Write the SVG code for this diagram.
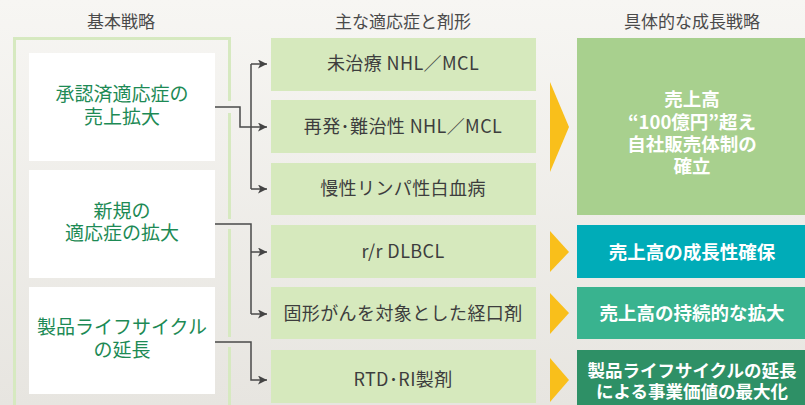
<svg xmlns="http://www.w3.org/2000/svg" width="805" height="405" viewBox="0 0 805 405">
<defs>
<linearGradient id="bg" x1="0" y1="0" x2="0" y2="1">
<stop offset="0" stop-color="#f7f6f3"/>
<stop offset="1" stop-color="#e7e5e0"/>
</linearGradient>
<marker id="ah" viewBox="0 0 10 10" refX="10" refY="5" markerWidth="9" markerHeight="9" markerUnits="userSpaceOnUse" orient="auto">
<path d="M0,0 L10,5 L0,10 L2.5,5 Z" fill="#444"/>
</marker>
<style>
.hdr{font-family:"Noto Sans CJK JP","Noto Sans",sans-serif;font-size:17px;fill:#4a4a4a;text-anchor:middle}
.wb{fill:#ffffff}
.gt{font-family:"Noto Sans CJK JP","Noto Sans",sans-serif;font-size:19px;fill:#1d8a55;text-anchor:middle}
.lb{fill:#d6e9bd}
.lt{font-family:"Noto Sans CJK JP","Noto Sans",sans-serif;font-size:18px;fill:#3d3d3d;text-anchor:middle;letter-spacing:0.4px}
.ya{fill:#f9bf1b}
.rt{font-family:"Noto Sans CJK JP","Noto Sans",sans-serif;font-size:18.5px;font-weight:bold;fill:#ffffff;text-anchor:middle}
.cn{fill:none;stroke:#4a4a4a;stroke-width:1.5}
.fr{fill:none;stroke:#d6e9c0;stroke-width:3}
</style>
</defs>
<rect width="805" height="405" fill="url(#bg)"/>

<text class="hdr" x="121" y="28">基本戦略</text>
<text class="hdr" x="403" y="28">主な適応症と剤形</text>
<text class="hdr" x="692" y="28">具体的な成長戦略</text>

<g id="frame">
<path class="fr" d="M14.5,410 V38.5 H229.5 V101 M229.5,113 V219 M229.5,229 V337 M229.5,347 V410"/>
</g>

<g id="strategy1"><rect class="wb" x="29" y="53" width="186" height="108"/>
<text class="gt" x="122" y="101">承認済適応症の<tspan x="122" dy="23">売上拡大</tspan></text></g>
<g id="strategy2"><rect class="wb" x="29" y="170" width="186" height="108"/>
<text class="gt" x="122" y="218">新規の<tspan x="122" dy="22">適応症の拡大</tspan></text></g>
<g id="strategy3"><rect class="wb" x="29" y="287" width="186" height="107"/>
<text class="gt" x="122" y="334">製品ライフサイクル<tspan x="122" dy="23">の延長</tspan></text></g>

<g id="ind1"><rect class="lb" x="271" y="38" width="265" height="53"/><text class="lt" x="403" y="70">未治療 NHL／MCL</text></g>
<g id="ind2"><rect class="lb" x="271" y="100" width="265" height="53"/><text class="lt" x="403" y="133">再発･難治性 NHL／MCL</text></g>
<g id="ind3"><rect class="lb" x="271" y="163" width="265" height="52"/><text class="lt" x="403" y="195">慢性リンパ性白血病</text></g>
<g id="ind4"><rect class="lb" x="271" y="225" width="265" height="53"/><text class="lt" x="403" y="258">r/r DLBCL</text></g>
<g id="ind5"><rect class="lb" x="271" y="287" width="265" height="52"/><text class="lt" x="403" y="320">固形がんを対象とした経口剤</text></g>
<g id="ind6"><rect class="lb" x="271" y="350" width="265" height="53"/><text class="lt" x="403" y="386">RTD･RI製剤</text></g>

<g id="arrows">
<polygon class="ya" points="550,82 569,127 550,172"/>
<polygon class="ya" points="550,231 569,252 550,272"/>
<polygon class="ya" points="550,293 569,313 550,334"/>
<polygon class="ya" points="550,358 569,380 550,402"/>
</g>

<g id="goal1"><rect x="577" y="38" width="228" height="177" fill="#a8d08e"/>
<text class="rt" x="692" y="106">売上高<tspan x="692" dy="23">“100億円”超え</tspan><tspan x="692" dy="22">自社販売体制の</tspan><tspan x="692" dy="22">確立</tspan></text></g>
<g id="goal2"><rect x="577" y="225" width="228" height="53" fill="#00acb8"/>
<text class="rt" x="692" y="259">売上高の成長性確保</text></g>
<g id="goal3"><rect x="577" y="287" width="228" height="52" fill="#39b38f"/>
<text class="rt" x="692" y="320">売上高の持続的な拡大</text></g>
<g id="goal4"><rect x="577" y="350" width="228" height="55" fill="#2e9066"/>
<text class="rt" x="692" y="377" style="font-size:17.5px">製品ライフサイクルの延長<tspan x="692" dy="21">による事業価値の最大化</tspan></text></g>

<g id="connectors">
<path class="cn" d="M215,107 H240 V127 H251"/>
<path class="cn" d="M251,64 V189"/>
<path class="cn" d="M251,64 H267" marker-end="url(#ah)"/>
<path class="cn" d="M251,127 H267" marker-end="url(#ah)"/>
<path class="cn" d="M251,189 H267" marker-end="url(#ah)"/>
<path class="cn" d="M215,224 H251 V314"/>
<path class="cn" d="M251,252 H267" marker-end="url(#ah)"/>
<path class="cn" d="M251,314 H267" marker-end="url(#ah)"/>
<path class="cn" d="M215,342 H251 V380 H267" marker-end="url(#ah)"/>
</g>
</svg>
